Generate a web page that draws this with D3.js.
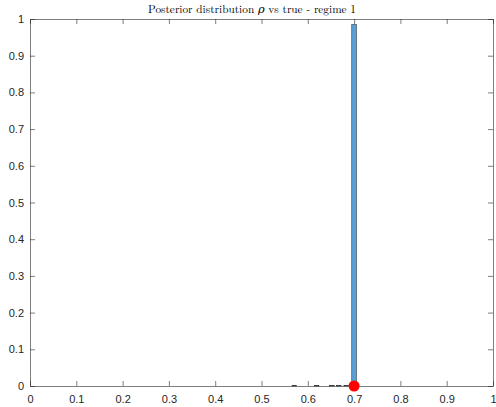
<!DOCTYPE html>
<html>
<head>
<meta charset="utf-8">
<script src="https://cdn.jsdelivr.net/npm/d3@7"></script>
<style>
  html, body { margin: 0; padding: 0; background: #fff; }
  svg { display: block; }
</style>
</head>
<body>
<svg id="chart" width="496" height="407"></svg>
<script>
// Posterior draws of rho, binned (bin centres, width 0.01) and normalised
const binCenters = [0.571, 0.619, 0.652, 0.667, 0.683, 0.70];
const binProbs   = [0.002, 0.002, 0.002, 0.002, 0.002, 0.985];
const binWidth = 0.01;
// True parameter value
const trueRho = [0.7];
// Axis ticks
const xTicks = [0, 0.1, 0.2, 0.3, 0.4, 0.5, 0.6, 0.7, 0.8, 0.9, 1];
const yTicks = [0, 0.1, 0.2, 0.3, 0.4, 0.5, 0.6, 0.7, 0.8, 0.9, 1];

const margin = {left: 30, right: 3, top: 19, bottom: 21};
const W = 496, H = 407;
const svg = d3.select("#chart");

const x = d3.scaleLinear().domain([0, 1]).range([margin.left, W - margin.right]);
const y = d3.scaleLinear().domain([0, 1]).range([H - margin.bottom, margin.top]);

const axisColor = "#262626";
const tickFont = "'Liberation Sans', Arial, Helvetica, sans-serif";

// Histogram bars
svg.append("g").selectAll("rect")
  .data(binCenters.map((c, i) => ({c, p: binProbs[i]})))
  .join("rect")
  .attr("x", d => x(d.c - binWidth / 2))
  .attr("width", d => x(d.c + binWidth / 2) - x(d.c - binWidth / 2))
  .attr("y", d => y(d.p))
  .attr("height", d => y(0) - y(d.p))
  .attr("fill", "#579fd6")
  .attr("stroke", "#1a1a1a")
  .attr("stroke-width", 0.5);

// Axes (ticks inside, box mirrored)
const tickLen = 5;
const axBottom = svg.append("g").attr("transform", `translate(0,${y(0)})`)
  .call(d3.axisBottom(x).tickValues(xTicks).tickSizeInner(-tickLen).tickSizeOuter(0)
    .tickPadding(9).tickFormat(d3.format("~g")));
const axTop = svg.append("g").attr("transform", `translate(0,${y(1)})`)
  .call(d3.axisTop(x).tickValues(xTicks).tickSizeInner(-tickLen).tickSizeOuter(0).tickFormat(""));
const axLeft = svg.append("g").attr("transform", `translate(${x(0)},0)`)
  .call(d3.axisLeft(y).tickValues(yTicks).tickSizeInner(-tickLen).tickSizeOuter(0)
    .tickPadding(6).tickFormat(d3.format("~g")));
const axRight = svg.append("g").attr("transform", `translate(${x(1)},0)`)
  .call(d3.axisRight(y).tickValues(yTicks).tickSizeInner(-tickLen).tickSizeOuter(0).tickFormat(""));

[axBottom, axTop, axLeft, axRight].forEach(g => {
  g.selectAll("path.domain").attr("stroke", axisColor).attr("stroke-width", 0.6);
  g.selectAll(".tick line").attr("stroke", axisColor).attr("stroke-width", 0.6);
  g.selectAll(".tick text").attr("fill", axisColor)
    .style("font-family", tickFont).style("font-size", "11px");
});

// True value marker
svg.append("g").selectAll("circle")
  .data(trueRho)
  .join("circle")
  .attr("cx", d => x(d))
  .attr("cy", y(0))
  .attr("r", 5.5)
  .attr("fill", "#ff0000");

// Title
const title = svg.append("text")
  .attr("x", 252)
  .attr("y", 13)
  .attr("text-anchor", "middle")
  .style("font-family", "'Latin Modern Roman', 'DejaVu Serif', 'Liberation Serif', serif")
  .style("font-size", "11.3px")
  .attr("fill", "#000");
title.append("tspan").text("Posterior distribution ");
title.append("tspan").style("font-style", "italic").text("ρ");
title.append("tspan").text(" vs true - regime 1");
</script>
</body>
</html>
